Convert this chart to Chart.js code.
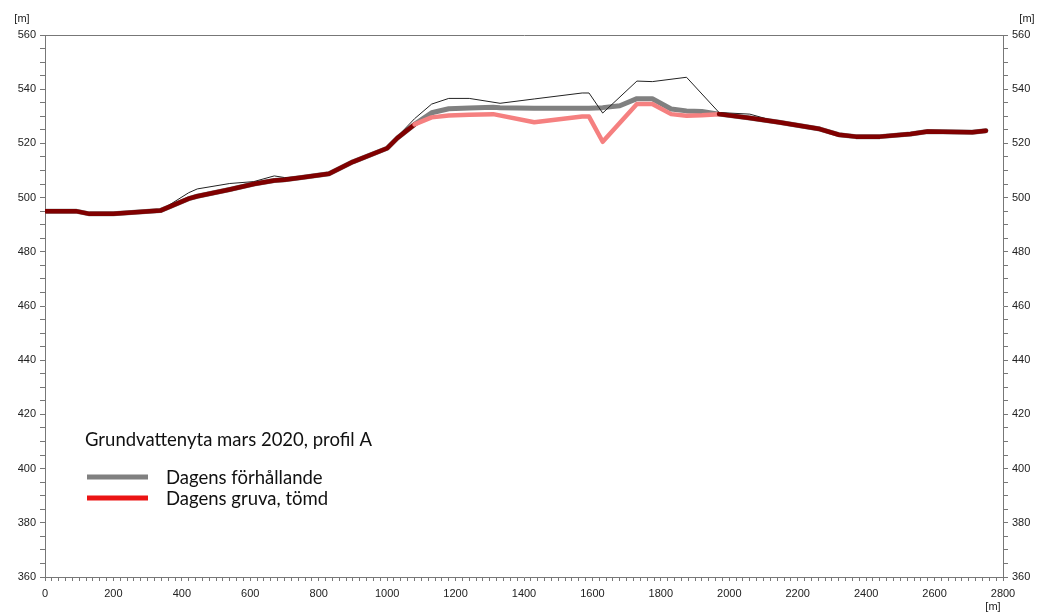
<!DOCTYPE html>
<html>
<head>
<meta charset="utf-8">
<script src="https://cdn.jsdelivr.net/npm/chart.js@4"></script>
<style>
  body { margin: 0; background: #fff; }
  #wrap { width: 1041px; height: 615px; position: relative; }
</style>
</head>
<body>
<div id="wrap"><canvas id="chart"></canvas></div>
<script>
// avstånd längs profilen [m]
var avstand = [0, 90, 130, 200, 337, 420, 445, 540, 610, 670, 700, 750, 830, 900, 1000, 1030, 1080,
  1130, 1180, 1240, 1310, 1330, 1430, 1570, 1590, 1630, 1680, 1730, 1775, 1830, 1875, 1920, 1970,
  2060, 2145, 2265, 2320, 2370, 2440, 2530, 2580, 2710, 2750];

// grundvattennivå, dagens förhållande [m]
var dagensForhallande = [495, 495, 494, 494, 495.2, 499.6, 500.5, 503, 505, 506.3, 506.6, 507.4, 508.8, 513.2, 518.2, 522, 527,
  531.3, 532.8, 533.1, 533.3, 533.2, 533, 533, 533, 533.2, 533.9, 536.5, 536.5, 532.7, 532, 531.8, 530.8,
  529.4, 527.8, 525.3, 523.2, 522.5, 522.5, 523.5, 524.4, 524.1, 524.7];

// grundvattennivå, dagens gruva tömd [m]
var gruvaTomd = [495, 495, 494, 494, 495.2, 499.6, 500.5, 503, 505, 506.3, 506.6, 507.4, 508.8, 513.2, 518.2, 522, 527,
  529.6, 530.3, 530.6, 530.8, null, 527.8, 529.9, 529.9, 520.6, null, 534.5, 534.5, 530.8, 530.2, 530.4, 530.8,
  529.4, 527.8, 525.3, 523.2, 522.5, 522.5, 523.5, 524.4, 524.1, 524.7];

// markyta (tunn linje) [m]
var markyta = [495, 495, 494, 494, 495.2, 501.8, 503.2, 505.2, 505.9, 508, 507.4, 507.6, 508.8, 513.2, 518.2, 522.5, 529.1,
  534.5, 536.6, 536.6, null, 534.8, 536.4, 538.6, 538.6, 531.2, null, 543, 542.8, null, 544.4, null, 531.4,
  530.8, 527.8, 525.3, 523.2, 522.5, 522.5, 523.5, 524.4, 524.1, 524.7];

var titel = 'Grundvattenyta mars 2020, profil A';
var etiketter = ['Dagens förhållande', 'Dagens gruva, tömd'];
var legendFarger = ['rgb(128,128,128)', 'rgb(235,20,20)'];

function punkter(ys) {
  return avstand.map(function (x, i) { return { x: x, y: ys[i] }; });
}

function lika(i) {
  return dagensForhallande[i] === gruvaTomd[i];
}

var tickFont = { family: '"Liberation Sans", Arial, sans-serif', size: 11 };

// egen förklaring + enhetsetiketter
var forklaring = {
  id: 'forklaring',
  afterDraw: function (chart) {
    var ctx = chart.ctx;
    ctx.save();
    ctx.fillStyle = '#222';
    ctx.font = '11px "Liberation Sans", Arial, sans-serif';
    ctx.textAlign = 'center';
    ctx.textBaseline = 'middle';
    ctx.fillText('[m]', 22, 19);
    ctx.fillText('[m]', 1027, 19);
    ctx.fillText('[m]', 993, 607);

    ctx.textAlign = 'left';
    ctx.fillStyle = '#111';
    ctx.font = '18.5px Lato, "Open Sans", sans-serif';
    ctx.fillText(titel, 85, 440);
    var ys = [477, 498];
    for (var i = 0; i < etiketter.length; i++) {
      ctx.strokeStyle = legendFarger[i];
      ctx.lineWidth = 5;
      ctx.beginPath();
      ctx.moveTo(87, ys[i]);
      ctx.lineTo(148, ys[i]);
      ctx.stroke();
      ctx.fillText(etiketter[i], 166, ys[i] + 1);
    }
    ctx.restore();
  }
};

var ctx = document.getElementById('chart').getContext('2d');
new Chart(ctx, {
  type: 'line',
  data: {
    datasets: [{
      label: etiketter[1],
      data: punkter(gruvaTomd),
      borderWidth: 4.5,
      borderColor: 'rgb(245,128,128)',
      segment: {
        borderColor: function (c) {
          return lika(c.p0DataIndex) && lika(c.p1DataIndex) ? 'rgb(128,0,0)' : 'rgb(245,128,128)';
        }
      },
      order: 0
    }, {
      label: 'Markyta',
      data: punkter(markyta),
      borderWidth: 1,
      borderColor: '#222',
      order: 1
    }, {
      label: etiketter[0],
      data: punkter(dagensForhallande),
      borderWidth: 5,
      borderColor: 'rgb(128,128,128)',
      order: 2
    }]
  },
  options: {
    responsive: true,
    maintainAspectRatio: false,
    animation: false,
    spanGaps: true,
    layout: { padding: 0 },
    elements: {
      point: { radius: 0 },
      line: { tension: 0, borderJoinStyle: 'round', borderCapStyle: 'round' }
    },
    plugins: {
      legend: { display: false },
      tooltip: { enabled: false }
    },
    scales: {
      x: {
        type: 'linear',
        min: 0,
        max: 2800,
        afterFit: function (s) { s.height = 38; },
        ticks: {
          stepSize: 20,
          autoSkip: false,
          maxRotation: 0,
          minRotation: 0,
          padding: 6,
          color: '#222',
          font: tickFont,
          callback: function (v) { return v % 200 === 0 ? v : ''; }
        },
        grid: { drawOnChartArea: false, tickLength: 4, color: '#777' },
        border: { color: '#777' }
      },
      xTop: {
        type: 'linear',
        position: 'top',
        min: 0,
        max: 2800,
        afterFit: function (s) { s.height = 35; },
        ticks: { display: false },
        grid: { display: false },
        border: { display: true, color: '#777' }
      },
      y: {
        position: 'left',
        min: 360,
        max: 560,
        afterFit: function (s) { s.width = 45; },
        ticks: {
          stepSize: 5,
          autoSkip: false,
          padding: 4,
          color: '#222',
          font: tickFont,
          callback: function (v) { return v % 20 === 0 ? v : ''; }
        },
        grid: { drawOnChartArea: false, tickLength: 5, color: '#777' },
        border: { color: '#777' }
      },
      y2: {
        position: 'right',
        min: 360,
        max: 560,
        afterFit: function (s) { s.width = 38; },
        ticks: {
          stepSize: 5,
          autoSkip: false,
          padding: 4,
          color: '#222',
          font: tickFont,
          callback: function (v) { return v % 20 === 0 ? v : ''; }
        },
        grid: { drawOnChartArea: false, tickLength: 5, color: '#777' },
        border: { color: '#777' }
      }
    }
  },
  plugins: [forklaring]
});
</script>
</body>
</html>
